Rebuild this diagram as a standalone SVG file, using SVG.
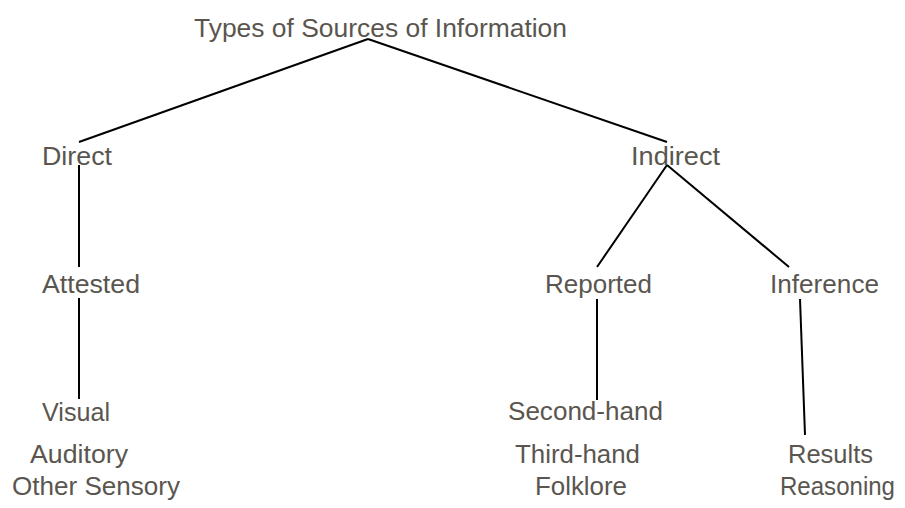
<svg xmlns="http://www.w3.org/2000/svg" width="905" height="508" viewBox="0 0 905 508">
<style>
text{font-family:"Liberation Sans",Arial,sans-serif;font-size:25px;fill:#5a564f}
.c line{stroke:#000;stroke-width:2;fill:none}
</style>
<rect width="905" height="508" fill="#fff"/>
<g class="c" id="connectors">
<line x1="368" y1="39" x2="79" y2="142"/>
<line x1="368" y1="39" x2="667" y2="142"/>
<line x1="79" y1="165" x2="79" y2="267"/>
<line x1="79" y1="298" x2="79" y2="399"/>
<line x1="667" y1="165" x2="597" y2="267"/>
<line x1="667" y1="165" x2="789" y2="267"/>
<line x1="597" y1="299" x2="597" y2="400"/>
<line x1="800" y1="299" x2="805" y2="435"/>
</g>
<g id="n-root"><text x="194" y="37" textLength="373" lengthAdjust="spacingAndGlyphs">Types of Sources of Information</text></g>
<g id="n-direct"><text x="42" y="165" textLength="70" lengthAdjust="spacingAndGlyphs">Direct</text></g>
<g id="n-indirect"><text x="631" y="165" textLength="89" lengthAdjust="spacingAndGlyphs">Indirect</text></g>
<g id="n-attested"><text x="42" y="293" textLength="98" lengthAdjust="spacingAndGlyphs">Attested</text></g>
<g id="n-reported"><text x="545" y="293" textLength="107" lengthAdjust="spacingAndGlyphs">Reported</text></g>
<g id="n-inference"><text x="770" y="293" textLength="109" lengthAdjust="spacingAndGlyphs">Inference</text></g>
<g id="n-visual"><text x="42" y="421" textLength="68" lengthAdjust="spacingAndGlyphs">Visual</text></g>
<g id="n-auditory"><text x="30" y="463" textLength="98" lengthAdjust="spacingAndGlyphs">Auditory</text></g>
<g id="n-othersensory"><text x="12" y="495" textLength="168" lengthAdjust="spacingAndGlyphs">Other Sensory</text></g>
<g id="n-secondhand"><text x="508" y="420" textLength="155" lengthAdjust="spacingAndGlyphs">Second-hand</text></g>
<g id="n-thirdhand"><text x="515" y="463" textLength="125" lengthAdjust="spacingAndGlyphs">Third-hand</text></g>
<g id="n-folklore"><text x="535" y="495" textLength="92" lengthAdjust="spacingAndGlyphs">Folklore</text></g>
<g id="n-results"><text x="788" y="463" textLength="85" lengthAdjust="spacingAndGlyphs">Results</text></g>
<g id="n-reasoning"><text x="780" y="495" textLength="115" lengthAdjust="spacingAndGlyphs">Reasoning</text></g>
</svg>
